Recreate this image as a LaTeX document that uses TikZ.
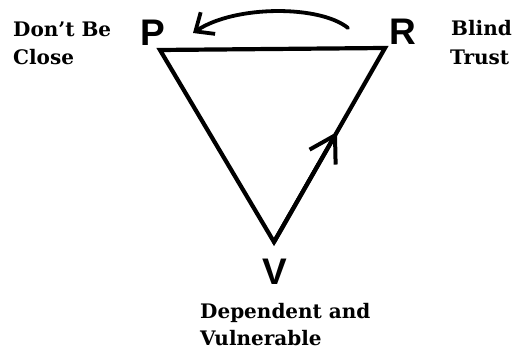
\documentclass[tikz,border=0pt]{standalone}
\usepackage{fontspec}
\newfontfamily\lsans{Liberation Sans}
\newfontfamily\dserif{DejaVu Serif}
\usetikzlibrary{arrows.meta,calc}
\tikzset{
  edge/.style={line width=4.2pt, line join=miter},
  midarrow/.style={line width=4.2pt, line cap=round, -{Straight Barb[length=25pt,width=30pt,line width=4pt]}},
  curvearrow/.style={line width=3.8pt, line cap=round, -{Straight Barb[length=15pt,width=26pt,line width=3.8pt]}},
  letter/.style={font=\lsans\bfseries\fontsize{37}{40}\selectfont, inner sep=0pt, anchor=base},
  caption/.style={font=\dserif\bfseries\fontsize{20}{28}\selectfont, inner sep=0pt, anchor=base west}
}
\begin{document}
\begin{tikzpicture}[x=1pt,y=1pt]
\useasboundingbox (0,0) rectangle (513,350);
\coordinate (p) at (160,300);
\coordinate (r) at (385,302);
\coordinate (v) at (274,108);
\coordinate (m) at ($(v)!0.567!(r)$);
\coordinate (ca) at (348,322);
\coordinate (cb) at (193,317);
\draw[edge] (p) -- (r) -- (v) -- cycle;
\draw[midarrow] (v) -- (m);
\draw[curvearrow] (ca) .. controls (320,345) and (235,345) .. (cb);
\node[letter] (lp) at (153,304) {P};
\node[letter] (lr) at (403,305) {R};
\node[letter] (lv) at (275,65) {V};
\node[caption] (t1) at (13,313) {Don’t Be};
\node[caption] (t2) at (13,285) {Close};
\node[caption] (t3) at (451,314) {Blind};
\node[caption] (t4) at (450,285) {Trust};
\node[caption] (t5) at (200,31) {Dependent and};
\node[caption] (t6) at (200,4) {Vulnerable};
\end{tikzpicture}
\end{document}
